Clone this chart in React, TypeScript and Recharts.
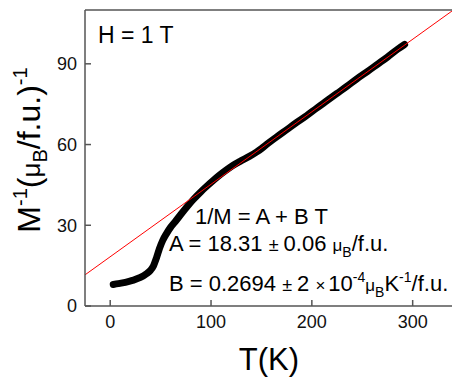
import { LineChart, Line, XAxis, YAxis } from 'recharts';

const temps = [3, 8, 15, 22, 30, 36, 40, 43, 46, 49, 52, 56, 60, 65, 70, 76, 82, 90, 96, 102, 108, 115, 122, 130, 138, 145, 150, 155, 165, 175, 185, 195, 205, 215, 225, 235, 245, 255, 265, 275, 285, 292];
const invM = [8.0, 8.3, 8.8, 9.5, 10.6, 12.0, 13.3, 15.0, 18.0, 21.5, 24.3, 27.0, 29.3, 31.6, 34.0, 36.8, 39.4, 42.5, 44.6, 46.6, 48.5, 50.5, 52.3, 54.0, 55.6, 57.2, 58.5, 60.0, 62.8, 65.5, 68.2, 70.8, 73.6, 76.3, 79.0, 81.7, 84.5, 87.1, 89.8, 92.5, 95.4, 97.2];

// linear fit 1/M = A + B T, drawn across the whole axis
const fitT = [-25, 340];
const fitV = [11.57, 109.9];

const xTicks = [0, 100, 200, 300];
const xMinor = [50, 150, 250];
const yTicks = [0, 30, 60, 90];
const yMinor = [15, 45, 75, 105];

const measured = temps.map((t, i) => ({ t, v: invM[i] }));
const fit = fitT.map((t, i) => ({ t, v: fitV[i] }));

const FONT = '"Liberation Sans", Arial, sans-serif';
const AX = '#555';
const tickStyle = { fontSize: 18, fill: '#111', fontFamily: FONT };

export default function App() {
  return (
    <div style={{ position: 'absolute', left: 0, top: 0, width: 452, height: 377, overflow: 'hidden', background: '#fff' }}>
      <LineChart width={455} height={377} margin={{ top: 8, right: 0, bottom: 69, left: 83 }}>
        <XAxis xAxisId="b" type="number" dataKey="t" domain={[-25, 340]} ticks={xTicks} allowDataOverflow
          height={1} tickSize={-6} tickMargin={15} stroke={AX} strokeWidth={1.5} tick={tickStyle} />
        <XAxis xAxisId="bm" type="number" dataKey="t" domain={[-25, 340]} ticks={xMinor} allowDataOverflow
          height={1} tickSize={-4} tick={false} axisLine={false} stroke={AX} strokeWidth={1.5} />
        <XAxis xAxisId="t" orientation="top" type="number" dataKey="t" domain={[-25, 340]} ticks={xTicks} allowDataOverflow
          height={1} tickSize={-6} tick={false} stroke={AX} strokeWidth={1.5} />
        <XAxis xAxisId="tm" orientation="top" type="number" dataKey="t" domain={[-25, 340]} ticks={xMinor} allowDataOverflow
          height={1} tickSize={-4} tick={false} axisLine={false} stroke={AX} strokeWidth={1.5} />
        <YAxis yAxisId="l" type="number" dataKey="v" domain={[0, 110]} ticks={yTicks} allowDataOverflow
          width={1} tickSize={-6} tickMargin={14} stroke={AX} strokeWidth={1.5} tick={tickStyle} />
        <YAxis yAxisId="lm" type="number" dataKey="v" domain={[0, 110]} ticks={yMinor} allowDataOverflow
          width={1} tickSize={-4} tick={false} axisLine={false} stroke={AX} strokeWidth={1.5} />
        <YAxis yAxisId="r" orientation="right" type="number" dataKey="v" domain={[0, 110]} ticks={yTicks} allowDataOverflow
          width={1} tickSize={-6} tick={false} stroke={AX} strokeWidth={1.5} />
        <YAxis yAxisId="rm" orientation="right" type="number" dataKey="v" domain={[0, 110]} ticks={yMinor} allowDataOverflow
          width={1} tickSize={-4} tick={false} axisLine={false} stroke={AX} strokeWidth={1.5} />
        <Line xAxisId="b" yAxisId="l" data={measured} dataKey="v" type="monotone" stroke="#000" strokeWidth={7}
          strokeLinecap="round" strokeLinejoin="round" dot={false} isAnimationActive={false} />
        <Line xAxisId="b" yAxisId="l" data={fit} dataKey="v" type="linear" stroke="#ff0000" strokeWidth={1}
          dot={false} isAnimationActive={false} />
      </LineChart>
      <svg width={452} height={377} style={{ position: 'absolute', left: 0, top: 0, pointerEvents: 'none' }}
        fontFamily={FONT} fill="#000">
        <text x={98} y={43} fontSize={23}>H = 1 T</text>
        <text x={195} y={224} fontSize={22}>1/M = A + B T</text>
        <text x={169} y={251} fontSize={22}>
          A = 18.31 <tspan fontSize={18}>±</tspan><tspan dx={5}>0.06 </tspan><tspan fontSize={17}>μ</tspan><tspan fontSize={14} dy={6}>B</tspan><tspan dy={-6}>/f.u.</tspan>
        </text>
        <text x={169} y={291} fontSize={22}>
          B = 0.2694 <tspan fontSize={18}>±</tspan><tspan dx={5}>2 </tspan><tspan fontSize={17}>×</tspan><tspan dx={3}>10</tspan><tspan fontSize={14} dy={-9}>-4</tspan><tspan fontSize={17} dy={9}>μ</tspan><tspan fontSize={14} dy={6}>B</tspan><tspan dy={-6}>K</tspan><tspan fontSize={14} dy={-9}>-1</tspan><tspan dy={9}>/f.u.</tspan>
        </text>
        <text x={269} y={370} fontSize={31} textAnchor="middle">T(K)</text>
        <text transform="translate(40,150) rotate(-90)" fontSize={32} textAnchor="middle">
          M<tspan fontSize={20} dy={-13}>-1</tspan><tspan dy={13}>(</tspan><tspan fontSize={26}>μ</tspan><tspan fontSize={20} dy={7}>B</tspan><tspan dy={-7}>/f.u.)</tspan><tspan fontSize={20} dy={-13}>-1</tspan>
        </text>
      </svg>
    </div>
  );
}
